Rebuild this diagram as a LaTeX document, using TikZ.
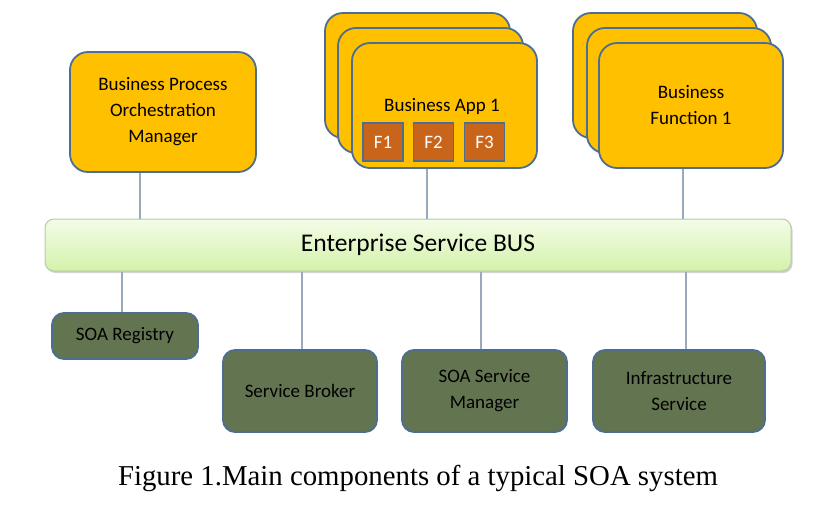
\documentclass[tikz,border=0pt]{standalone}
\usepackage{fontspec}
\setmainfont{Carlito}
\newfontfamily\capfont{Liberation Serif}
\usepackage{xcolor}
\usetikzlibrary{shadows}

\definecolor{appyellow}{HTML}{FFC000}
\definecolor{edgeblue}{HTML}{4C6E93}
\definecolor{regGreen}{HTML}{637451}
\definecolor{fbrown}{HTML}{C8651B}
\definecolor{linkgray}{HTML}{9AAABB}
\definecolor{bustop}{HTML}{F4FCE8}
\definecolor{busbottom}{HTML}{D3F2AA}
\definecolor{busedge}{HTML}{B8C8A8}

\tikzset{
  appbox/.style={draw=edgeblue,line width=1.8pt,fill=appyellow,rounded corners=18pt,
    align=center,inner sep=0pt,font=\fontsize{19}{26}\selectfont},
  svcbox/.style={draw=edgeblue,line width=1.8pt,fill=regGreen,rounded corners=12pt,
    align=center,inner sep=0pt,text=black,font=\fontsize{19}{26}\selectfont},
  fbox/.style={draw=edgeblue,line width=1.5pt,fill=fbrown,text=white,inner sep=0pt,
    minimum width=40pt,minimum height=38pt,font=\fontsize{19}{22}\selectfont},
  link/.style={draw=linkgray,line width=1.2pt}
}

\begin{document}
\begin{tikzpicture}[x=1pt,y=-1pt]
\useasboundingbox (0,0) rectangle (837,504);
% business process box
\node[appbox,minimum width=186pt,minimum height=120pt] (bpom) at (163,112)
  {Business Process\\Orchestration\\Manager};
% stacked application boxes
\node[appbox,minimum width=185pt,minimum height=125pt] (appback) at (417.5,75.5) {};
\node[appbox,minimum width=185pt,minimum height=125pt] (appmid) at (430.5,90.5) {};
\node[appbox,minimum width=185pt,minimum height=125pt] (app) at (444.5,105.5) {};
\node[font=\fontsize{19}{22}\selectfont] (applabel) at (442,106) {Business App 1};
\node[fbox] (f1) at (383,142) {F1};
\node[fbox] (f2) at (433.5,142) {F2};
\node[fbox] (f3) at (484.5,142) {F3};
% stacked function boxes
\node[appbox,minimum width=184pt,minimum height=125pt] (funback) at (665,75.5) {};
\node[appbox,minimum width=184pt,minimum height=125pt] (funmid) at (679,90.5) {};
\node[appbox,minimum width=184pt,minimum height=125pt] (fun) at (691,105.5)
  {Business\\Function 1};
% service bus
\node[draw=busedge,line width=1pt,top color=bustop,bottom color=busbottom,
  rounded corners=9pt,minimum width=746pt,minimum height=52pt,
  font=\fontsize{25.5}{30}\selectfont,
  drop shadow={shadow xshift=1.5pt,shadow yshift=-2pt,opacity=0.35}] (bus) at (418,245)
  {Enterprise Service BUS};
% services
\node[svcbox,minimum width=146pt,minimum height=46pt] (registry) at (125,336) {SOA Registry};
\node[svcbox,minimum width=154pt,minimum height=82pt] (broker) at (300,391) {Service Broker};
\node[svcbox,minimum width=165pt,minimum height=82pt] (manager) at (484.5,391) {SOA Service\\Manager};
\node[svcbox,minimum width=172pt,minimum height=82pt] (infra) at (679,391) {Infrastructure\\Service};
% connectors
\draw[link] ([xshift=-23pt]bpom.south) -- ([xshift=-23pt]bpom.south |- bus.north);
\draw[link] ([xshift=-17.5pt]app.south) -- ([xshift=-17.5pt]app.south |- bus.north);
\draw[link] ([xshift=-8pt]fun.south) -- ([xshift=-8pt]fun.south |- bus.north);
\draw[link] ([xshift=-3pt]registry.north) -- ([xshift=-3pt]registry.north |- bus.south);
\draw[link] ([xshift=2pt]broker.north) -- ([xshift=2pt]broker.north |- bus.south);
\draw[link] ([xshift=-3.5pt]manager.north) -- ([xshift=-3.5pt]manager.north |- bus.south);
\draw[link] ([xshift=7pt]infra.north) -- ([xshift=7pt]infra.north |- bus.south);
% caption
\node[font=\capfont\fontsize{28.8}{32}\selectfont] (caption) at (418,478)
  {Figure 1.Main components of a typical SOA system};
\end{tikzpicture}
\end{document}
